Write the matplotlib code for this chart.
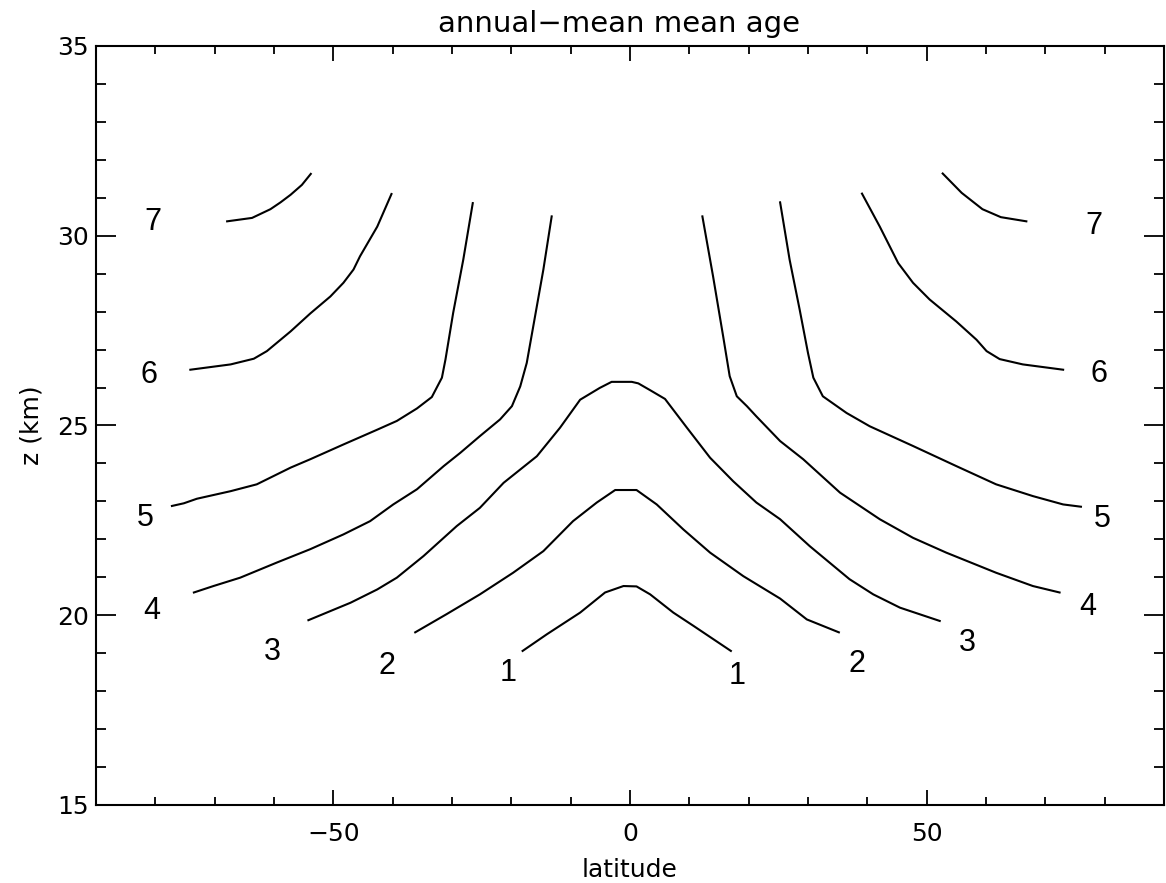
import matplotlib
matplotlib.use("Agg")
import matplotlib.pyplot as plt
from matplotlib.ticker import MultipleLocator

# mean age isolines (years): latitude / altitude (km) along each branch
age1_lat = [-18.1, -14.0, -8.4, -4.2, -1.1, 1.1, 3.4, 7.3, 10.7, 17.0]
age1_z = [19.06, 19.50, 20.07, 20.60, 20.77, 20.76, 20.55, 20.07, 19.72, 19.06]

age2_lat = [-36.2, -30.9, -25.3, -19.7, -14.6, -9.6, -5.6, -2.5, 1.1, 4.5,
            9.0, 13.5, 19.1, 25.3, 29.8, 35.2]
age2_z = [19.55, 20.03, 20.55, 21.12, 21.69, 22.48, 22.97, 23.30, 23.30, 22.92,
          22.26, 21.65, 21.03, 20.44, 19.89, 19.55]

age3_lat = [-54.2, -50.5, -47.1, -42.6, -39.3, -34.8, -29.2, -25.3, -21.3, -15.7,
            -11.8, -8.4, -5.1, -3.1, 0.3, 1.4, 3.4, 5.9, 9.6, 13.5,
            17.4, 21.3, 25.3, 30.3, 37.0, 41.0, 45.5, 52.2]
age3_z = [19.87, 20.11, 20.33, 20.68, 20.99, 21.56, 22.35, 22.83, 23.49, 24.19,
          24.94, 25.68, 25.99, 26.15, 26.15, 26.11, 25.93, 25.70, 24.94, 24.15,
          23.53, 22.97, 22.53, 21.82, 20.95, 20.55, 20.20, 19.85]

age4_lat_s = [-73.5, -70.2, -65.7, -59.5, -53.9, -48.3, -43.8, -39.9, -35.9, -31.4,
              -28.6, -25.3, -21.9, -19.9, -18.5, -17.4, -16.0, -14.6, -13.2]
age4_z_s = [20.60, 20.77, 20.99, 21.39, 21.74, 22.13, 22.48, 22.92, 23.32, 23.93,
            24.28, 24.72, 25.16, 25.51, 26.03, 26.65, 27.88, 29.11, 30.51]
age4_lat_n = [12.2, 14.0, 15.7, 16.8, 18.0, 19.7, 21.3, 25.3, 29.2, 35.4,
              42.1, 47.7, 53.3, 61.7, 67.9, 72.4]
age4_z_n = [30.51, 28.93, 27.35, 26.30, 25.77, 25.51, 25.24, 24.59, 24.11, 23.23,
            22.53, 22.04, 21.65, 21.12, 20.77, 20.60]

age5_lat_s = [-77.2, -75.2, -73.0, -67.3, -62.9, -57.2, -53.9, -48.3, -42.6, -39.3,
              -35.9, -33.4, -31.7, -31.1, -29.8, -28.1, -26.5]
age5_z_s = [22.88, 22.95, 23.07, 23.27, 23.45, 23.89, 24.11, 24.50, 24.89, 25.12,
            25.45, 25.75, 26.26, 26.74, 27.97, 29.37, 30.86]
age5_lat_n = [25.3, 26.9, 28.6, 30.0, 30.9, 32.5, 36.5, 40.4, 47.7, 55.0,
              61.7, 67.9, 73.0, 76.0]
age5_z_n = [30.88, 29.37, 28.05, 26.91, 26.26, 25.77, 25.33, 24.98, 24.46, 23.93,
            23.45, 23.14, 22.92, 22.86]

age6_lat_s = [-74.1, -67.3, -63.4, -61.2, -57.2, -53.9, -50.5, -48.3, -46.6, -45.5,
              -42.6, -40.2]
age6_z_s = [26.47, 26.61, 26.76, 26.96, 27.48, 27.95, 28.40, 28.76, 29.11, 29.46,
            30.24, 31.10]
age6_lat_n = [39.1, 42.1, 45.2, 47.7, 50.5, 55.0, 58.4, 60.1, 62.3, 66.2, 73.0]
age6_z_n = [31.11, 30.24, 29.28, 28.76, 28.32, 27.74, 27.26, 26.96, 26.75, 26.61,
            26.47]

age7_lat_s = [-67.9, -63.7, -60.6, -58.9, -57.2, -55.3, -53.8]
age7_z_s = [30.38, 30.47, 30.70, 30.88, 31.08, 31.34, 31.63]
age7_lat_n = [52.7, 55.9, 59.4, 62.5, 66.8]
age7_z_n = [31.64, 31.13, 30.70, 30.49, 30.38]

# contour labels
label_text = ["7", "6", "5", "4", "3", "2", "1",
              "1", "2", "3", "4", "5", "6", "7"]
label_lat = [-80.4, -81.1, -81.7, -80.6, -60.2, -41.0, -20.6,
             18.0, 38.3, 56.9, 77.2, 79.6, 79.1, 78.1]
label_z = [30.35, 26.34, 22.57, 20.10, 19.02, 18.65, 18.49,
           18.40, 18.71, 19.28, 20.23, 22.53, 26.37, 30.26]

branches = [
    (age1_lat, age1_z), (age2_lat, age2_z), (age3_lat, age3_z),
    (age4_lat_s, age4_z_s), (age4_lat_n, age4_z_n),
    (age5_lat_s, age5_z_s), (age5_lat_n, age5_z_n),
    (age6_lat_s, age6_z_s), (age6_lat_n, age6_z_n),
    (age7_lat_s, age7_z_s), (age7_lat_n, age7_z_n),
]

axis_font = "DejaVu Sans"

fig = plt.figure(figsize=(11.66, 8.83), dpi=100)
ax = fig.add_axes([96 / 1166, 1 - 805 / 883, 1068 / 1166, 759 / 883])

for lat, z in branches:
    ax.plot(lat, z, color="black", lw=1.5)

for txt, x, y in zip(label_text, label_lat, label_z):
    ax.text(x, y, txt, ha="center", va="center", fontsize=22,
            family="Liberation Sans")

ax.set_xlim(-90, 90)
ax.set_ylim(15, 35)
ax.xaxis.set_major_locator(MultipleLocator(50))
ax.xaxis.set_minor_locator(MultipleLocator(10))
ax.yaxis.set_major_locator(MultipleLocator(5))
ax.yaxis.set_minor_locator(MultipleLocator(1))

for s in ax.spines.values():
    s.set_linewidth(1.5)

ax.tick_params(which="both", direction="in", top=True, right=True,
               width=1.3, colors="black")
ax.tick_params(axis="x", which="major", length=10.8, pad=12)
ax.tick_params(axis="x", which="minor", length=5.5)
ax.tick_params(axis="y", which="major", length=14.4, pad=5)
ax.tick_params(axis="y", which="minor", length=7.2)

for lab in ax.get_xticklabels() + ax.get_yticklabels():
    lab.set_family(axis_font)
    lab.set_fontsize(18)

ax.set_title("annual\u2212mean mean age", family=axis_font,
             fontsize=21, pad=10, x=0.49)
ax.set_xlabel("latitude", family=axis_font, fontsize=18, labelpad=9)
ax.set_ylabel("z (km)", family=axis_font, fontsize=18, labelpad=10)

fig.savefig("out.png", dpi=100)
